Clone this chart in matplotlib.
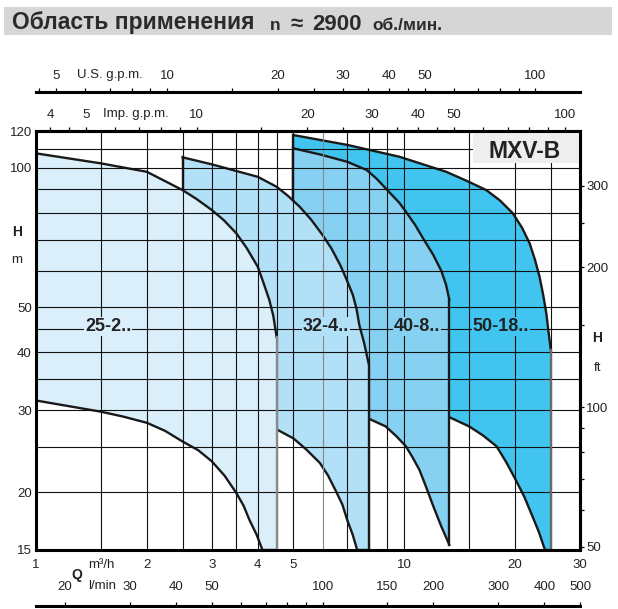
import matplotlib.pyplot as plt
from matplotlib.patches import Rectangle
from matplotlib.ticker import NullFormatter, NullLocator

plt.rcParams['font.family'] = ['Liberation Sans', 'DejaVu Sans']

# unit conversions from m3/h and m
US_GPM = 4.403
IMP_GPM = 3.666
L_MIN = 1000 / 60
FT = 3.2808

# pump ranges, Q in m3/h, H in m (upper limit curve, lower limit curve)
q_top_25 = [1.0, 1.5, 2.0, 2.5, 2.73, 3.0, 3.24, 3.5, 3.73, 4.0, 4.13, 4.3, 4.41, 4.5]
h_top_25 = [107.4, 102.2, 98.0, 89.5, 85.6, 81.1, 77.0, 72.2, 67.2, 61.2, 57.0, 51.9, 47.9, 43.2]
q_bot_25 = [1.0, 1.5, 1.72, 2.0, 2.24, 2.5, 2.76, 3.0, 3.25, 3.5, 3.66, 3.8, 3.97, 4.12, 4.5]
h_bot_25 = [31.5, 29.8, 29.1, 28.2, 27.1, 25.7, 24.6, 23.3, 21.7, 19.9, 18.7, 17.4, 16.2, 15.0, 15.0]

q_top_32 = [2.5, 3.0, 4.0, 4.5, 4.83, 5.2, 5.6, 6.0, 6.34, 6.7, 6.96, 7.25, 7.42, 7.55, 7.78, 8.0]
h_top_32 = [105.3, 101.7, 95.6, 91.0, 87.0, 82.4, 77.1, 71.6, 67.0, 61.7, 57.6, 53.2, 49.6, 45.8, 41.9, 37.9]
q_bot_32 = [2.5, 4.5, 5.0, 5.42, 5.9, 6.21, 6.5, 6.79, 7.0, 7.24, 7.45, 8.0]
h_bot_32 = [27.3, 27.3, 26.1, 24.7, 23.1, 21.7, 20.2, 18.8, 17.4, 16.2, 15.0, 15.0]

q_top_40 = [5.0, 5.91, 7.0, 7.9, 8.4, 8.9, 9.7, 10.1, 10.7, 11.3, 11.97, 12.6, 12.98, 13.25]
h_top_40 = [110.1, 106.8, 103.0, 98.9, 94.8, 90.3, 84.0, 80.4, 75.3, 70.0, 65.0, 60.0, 56.0, 52.0]
q_bot_40 = [5.0, 8.0, 8.9, 9.51, 10.1, 10.55, 11.0, 11.49, 12.0, 12.59, 13.25]
h_bot_40 = [27.0, 28.8, 27.7, 26.4, 25.1, 23.7, 22.3, 20.4, 18.6, 16.9, 15.4]

q_top_50 = [5.0, 7.0, 9.7, 13.0, 14.73, 16.7, 18.19, 19.7, 20.87, 21.9, 22.63, 23.3,
            23.82, 24.3, 24.63, 25.0]
h_top_50 = [117.6, 112.0, 105.6, 98.0, 93.8, 89.5, 85.0, 79.8, 74.3, 68.7, 63.4, 58.2,
            53.3, 48.6, 44.4, 40.5]
q_bot_50 = [5.0, 8.0, 13.25, 15.0, 16.34, 17.8, 18.91, 20.1, 21.2, 22.3, 23.2, 24.1, 25.0]
h_bot_50 = [28.0, 29.5, 29.0, 27.7, 26.5, 25.1, 23.2, 21.2, 19.5, 17.7, 16.4, 15.0, 15.0]

names = ["50-18..", "40-8..", "32-4..", "25-2.."]
label_q = [18.3, 10.8, 6.14, 1.57]
label_h = 45.5

# axes ticks
q_ticks = [1, 2, 3, 4, 5, 10, 20, 30]
h_ticks = [15, 20, 30, 40, 50, 100, 120]
grid_q = [1.5, 2, 2.5, 3, 3.5, 4, 4.5, 5, 6, 7, 8, 9, 10, 15, 20, 25]
grid_h = [20, 25, 30, 35, 40, 45, 50, 60, 70, 80, 90, 100, 110]
us_major = [5, 10, 20, 30, 40, 50, 100]
us_minor = [4.5, 6, 7, 8, 9, 15, 25, 35, 45, 60, 70, 80, 90]
imp_major = [4, 5, 10, 20, 30, 40, 50, 100]
imp_minor = [4.5, 6, 7, 8, 9, 15, 25, 35, 45, 60, 70, 80, 90]
lmin_major = [20, 30, 40, 50, 100, 150, 200, 300, 400, 500]
lmin_minor = [60, 70, 80, 90]
ft_major = [50, 100, 200, 300]
ft_minor = [60, 70, 80, 90, 150, 250]

TXT = '#222222'
fig = plt.figure(figsize=(6.18, 6.09), dpi=100)
ax = fig.add_axes([36 / 618, 1 - 550 / 609, 544 / 618, 419 / 609])
ax.set_xscale('log')
ax.set_yscale('log')
ax.set_xlim(1, 30)
ax.set_ylim(15, 120)

regions = [
    (q_top_50, h_top_50, q_bot_50, h_bot_50, '#41c4f0', '#6a6a6a'),
    (q_top_40, h_top_40, q_bot_40, h_bot_40, '#86d1f2', '#1a1a1a'),
    (q_top_32, h_top_32, q_bot_32, h_bot_32, '#b2e0f6', '#1a1a1a'),
    (q_top_25, h_top_25, q_bot_25, h_bot_25, '#daeffa', '#8a8a8a'),
]

for i, (qt, ht, qb, hb, col, edge) in enumerate(regions):
    z = 2 + 2 * i
    ax.fill(qt + qb[::-1], ht + hb[::-1], color=col, lw=0, zorder=z)
    ax.plot(qt, ht, color='#1a1a1a', lw=1.7, zorder=z + 0.5, solid_joinstyle='round')
    ax.plot(qb, hb, color='#1a1a1a', lw=1.7, zorder=z + 0.5, solid_joinstyle='round')
    ax.plot([qt[0], qb[0]], [ht[0], hb[0]], color='#1a1a1a', lw=1.7, zorder=z + 0.5)
    ax.plot([qt[-1], qb[-1]], [ht[-1], hb[-1]], color=edge, lw=1.7, zorder=11)
    ax.text(label_q[i], label_h, names[i], ha='center', va='center',
            fontsize=13, fontweight='bold', color=TXT, zorder=12,
            bbox=dict(facecolor=col, edgecolor='none', pad=0.5))

for q in grid_q:
    ax.axvline(q, color='#888888' if q == 6 else '#111111', lw=0.8, zorder=10)
for h in grid_h:
    ax.axhline(h, color='#111111', lw=0.8, zorder=10)

ax.add_patch(Rectangle((0.803, 0.9236), 0.197, 0.0764, transform=ax.transAxes,
                       facecolor='#eeeeee', edgecolor='none', zorder=13))
ax.text(0.899, 0.952, 'MXV-B', transform=ax.transAxes, ha='center', va='center',
        fontsize=16.5, fontweight='bold', color=TXT, zorder=14)

for s in ax.spines.values():
    s.set_linewidth(2.2)
    s.set_zorder(20)

ax.set_xticks(q_ticks, labels=[str(v) for v in q_ticks])
ax.set_yticks(h_ticks, labels=[str(v) for v in h_ticks])
ax.xaxis.set_minor_locator(NullLocator())
ax.yaxis.set_minor_locator(NullLocator())
ax.tick_params(length=0, labelsize=9.5, labelcolor=TXT)
ax.tick_params(axis='x', pad=6.5)
ax.tick_params(axis='y', pad=3)


def style_sec(sec, major, minor, spine, pad):
    sec.set_ticks(major, labels=[str(v) for v in major])
    sec.set_ticks(minor, minor=True)
    sec_axis = sec.xaxis if spine in ('top', 'bottom') else sec.yaxis
    sec_axis.set_minor_formatter(NullFormatter())
    sec.tick_params(which='both', direction='out', length=3, width=0.9,
                    pad=pad, labelsize=9.5, labelcolor=TXT)
    sec.spines[spine].set_linewidth(2.2)


imp = ax.secondary_xaxis('top', functions=(lambda q: q * IMP_GPM, lambda g: g / IMP_GPM))
style_sec(imp, imp_major, imp_minor, 'top', 4.5)

us = ax.secondary_xaxis(1 + 38.5 / 419, functions=(lambda q: q * US_GPM, lambda g: g / US_GPM))
style_sec(us, us_major, us_minor, 'top', 4.5)

lm = ax.secondary_xaxis(-56 / 419, functions=(lambda q: q * L_MIN, lambda v: v / L_MIN))
lm.set_alignment('top')
style_sec(lm, lmin_major, lmin_minor, 'top', 6.5)

ftax = ax.secondary_yaxis('right', functions=(lambda h: h * FT, lambda f: f / FT))
style_sec(ftax, ft_major, ft_minor, 'right', 1.5)

# axis captions
fig.text(110 / 618, 1 - 75 / 609, 'U.S. g.p.m.', ha='center', va='center', fontsize=9.5, color=TXT)
fig.text(136 / 618, 1 - 114 / 609, 'Imp. g.p.m.', ha='center', va='center', fontsize=9.5, color=TXT)
fig.text(17.5 / 618, 1 - 232.5 / 609, 'H', ha='center', va='center', fontsize=10, fontweight='bold', color=TXT)
fig.text(17 / 618, 1 - 260 / 609, 'm', ha='center', va='center', fontsize=9.5, color=TXT)
fig.text(597 / 618, 1 - 338 / 609, 'H', ha='center', va='center', fontsize=10, fontweight='bold', color=TXT)
fig.text(598 / 618, 1 - 368 / 609, 'ft', ha='center', va='center', fontsize=9.5, color=TXT)
fig.text(77 / 618, 1 - 575 / 609, 'Q', ha='center', va='center', fontsize=10, fontweight='bold', color=TXT)
fig.text(88 / 618, 1 - 565 / 609, 'm³/h', ha='left', va='center', fontsize=9.5, color=TXT)
fig.text(88 / 618, 1 - 586 / 609, 'l/min', ha='left', va='center', fontsize=9.5, color=TXT)

# title bar
fig.patches.append(Rectangle((4 / 618, 1 - 35 / 609), 608 / 618, 28.5 / 609,
                             transform=fig.transFigure, facecolor='#d6d6d6',
                             edgecolor='none', zorder=0))
base = 1 - 29.5 / 609
TITLE = '#2b2b2b'
fig.text(12 / 618, base, 'Область применения', fontsize=16.5, fontweight='bold', color=TITLE, va='baseline')
fig.text(270 / 618, base, 'n', fontsize=12.5, fontweight='bold', color=TITLE, va='baseline')
fig.text(291 / 618, base, '≈', fontsize=16, fontweight='bold', color=TITLE, va='baseline')
fig.text(312 / 618, base, '2900', fontsize=16, fontweight='bold', color=TITLE, va='baseline')
fig.text(372 / 618, base, 'об./мин.', fontsize=12.5, fontweight='bold', color=TITLE, va='baseline')

fig.savefig('out.png', dpi=100)
